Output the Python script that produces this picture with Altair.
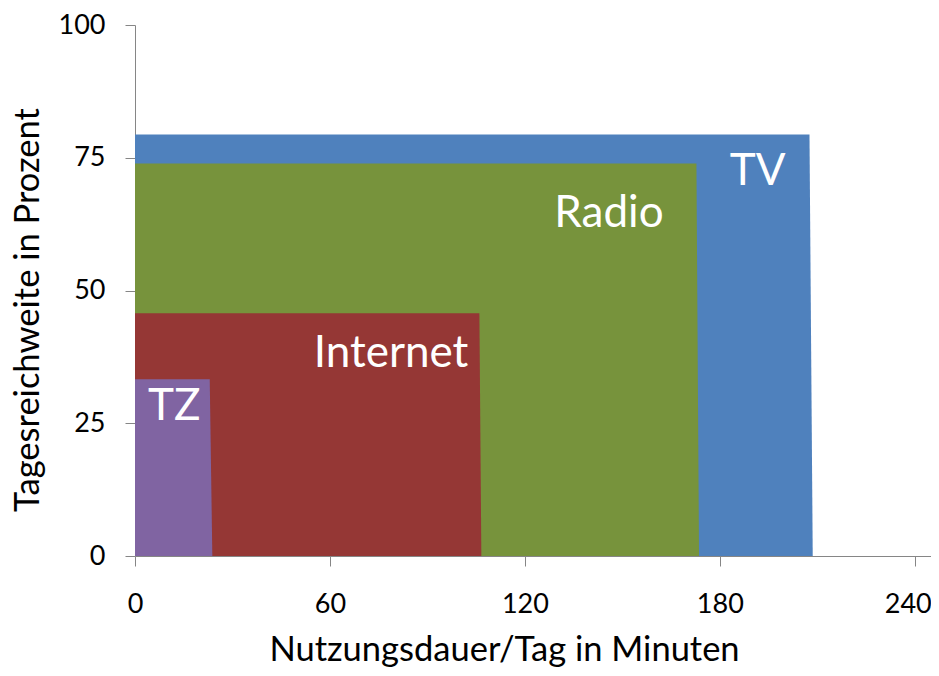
import altair as alt
import pandas as pd

# Series data
series = ["TV", "Radio", "Internet", "TZ"]
reach = [79.4, 73.9, 45.7, 33.3]            # Tagesreichweite in %
dur_top = [207.6, 172.8, 106.0, 23.0]       # Nutzungsdauer at top edge (min)
dur_bottom = [208.6, 173.6, 106.6, 23.8]    # Nutzungsdauer at base (min)
colors = ["#4F81BD", "#77933C", "#953735", "#8064A2"]

# label anchors (data units)
label_x = [200.2, 162.7, 102.6, 4.0]
label_y = [69.9, 62.0, 35.6, 25.6]
label_align = ["right", "right", "right", "left"]

x_ticks = [0, 60, 120, 180, 240]
y_ticks = [0, 25, 50, 75, 100]

FONT = "Lato"
x_scale = alt.Scale(domain=[0, 245], nice=False, zero=True)
y_scale = alt.Scale(domain=[0, 100], nice=False)

x_axis = alt.Axis(values=x_ticks, grid=False, title="Nutzungsdauer/Tag in Minuten",
                  domainColor="#868686", tickColor="#868686", tickSize=10,
                  labelFontSize=27, labelFont=FONT, labelColor="black", labelPadding=25,
                  labelFlush=False,
                  labelOffset=alt.ExprRef("datum.value == 240 ? -7 : 0"),
                  titleFontSize=34.5, titleFont=FONT, titleFontWeight="normal", titleColor="black",
                  titleX=369, titleY=104, titleBaseline="alphabetic", titleAlign="center")
y_axis = alt.Axis(values=y_ticks, grid=False, title="Tagesreichweite in Prozent",
                  domainColor="#868686", tickColor="#868686", tickSize=10,
                  labelFontSize=27, labelFont=FONT, labelColor="black", labelPadding=20,
                  titleFontSize=34.5, titleFont=FONT, titleFontWeight="normal", titleColor="black",
                  titleX=-97, titleY=284.5, titleBaseline="alphabetic", titleAlign="center")

rows = []
for i, s in enumerate(series):
    rows.append({"s": s, "k": i, "x": 0, "y": reach[i]})
    rows.append({"s": s, "k": i, "x": dur_top[i], "y": reach[i]})
    rows.append({"s": s, "k": i, "x": dur_bottom[i], "y": 0})
area_df = pd.DataFrame(rows)

layers = []
for i, s in enumerate(series):
    area = alt.Chart(area_df).transform_filter(
        alt.datum.s == s
    ).mark_area(color=colors[i], opacity=1).encode(
        x=alt.X("x:Q", scale=x_scale, axis=x_axis),
        y=alt.Y("y:Q", scale=y_scale, axis=y_axis, stack=None),
    )
    layers.append(area)

lab_df = pd.DataFrame({"x": label_x, "y": label_y, "t": series, "a": label_align})
for align in ["right", "left"]:
    txt = alt.Chart(lab_df).transform_filter(
        alt.datum.a == align
    ).mark_text(color="white", font=FONT, fontSize=44, align=align, baseline="alphabetic").encode(
        x=alt.X("x:Q", scale=x_scale, axis=x_axis),
        y=alt.Y("y:Q", scale=y_scale, axis=y_axis),
        text="t:N",
    )
    layers.append(txt)

chart = alt.layer(*layers).properties(
    width=796, height=531,
    autosize=alt.AutoSizeParams(type="none"),
    padding={"left": 127, "top": 17, "right": 0, "bottom": 112},
    background="white",
).configure_view(stroke="transparent")

chart.save("out.html", embed_options={"renderer": "svg", "actions": False})
